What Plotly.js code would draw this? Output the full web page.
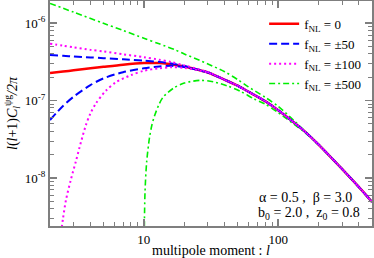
<!DOCTYPE html>
<html><head><meta charset="utf-8">
<script src="https://cdn.plot.ly/plotly-3.0.1.min.js"></script>
<style>html,body{margin:0;padding:0;background:#fff}</style>
</head><body>
<div id="chart" style="width:374px;height:258px"></div>
<script>
// shared tail (all curves merge at high multipoles)
const tailEll = [40, 50, 60, 80, 100, 150, 200, 300, 400, 500];
const tailVal = [1.85e-7, 1.55e-7, 1.3e-7, 9.8e-8, 7.5e-8, 4.3e-8, 2.7e-8, 1.3e-8, 7.6e-9, 4.9e-9];

// low-l heads
const headEll = [2, 2.5, 3, 4, 5, 7, 10, 13, 16, 20, 25, 30];
const f0Val      = [2.27e-7, 2.36e-7, 2.45e-7, 2.6e-7, 2.72e-7, 2.9e-7, 3.04e-7, 3.04e-7, 2.94e-7, 2.74e-7, 2.5e-7, 2.3e-7];
const f50UpVal   = [3.85e-7, 3.77e-7, 3.7e-7, 3.6e-7, 3.52e-7, 3.4e-7, 3.27e-7, 3.15e-7, 3.0e-7, 2.78e-7, 2.52e-7, 2.31e-7];
const f50LoVal   = [5.6e-8, 8.5e-8, 1.12e-7, 1.58e-7, 1.93e-7, 2.32e-7, 2.6e-7, 2.75e-7, 2.8e-7, 2.7e-7, 2.48e-7, 2.29e-7];
const f100UpVal  = [5.4e-7, 5.1e-7, 4.85e-7, 4.5e-7, 4.3e-7, 3.95e-7, 3.62e-7, 3.36e-7, 3.13e-7, 2.84e-7, 2.55e-7, 2.33e-7];

const f100LoEll  = [2.42, 2.5, 2.63, 2.86, 3.12, 3.4, 3.7, 4, 4.4, 5.2, 6.2, 8, 10, 13, 16, 20, 25, 30];
const f100LoVal  = [2.0e-9, 3.0e-9, 5.2e-9, 9.5e-9, 1.65e-8, 2.9e-8, 4.8e-8, 6.8e-8, 9.2e-8, 1.33e-7, 1.72e-7, 2.12e-7, 2.42e-7, 2.6e-7, 2.68e-7, 2.64e-7, 2.47e-7, 2.28e-7];

const f500UpEll  = [2, 3, 5, 7, 10, 13, 17, 20, 26, 30, 40, 50, 60, 80, 100, 130, 160, 200, 300, 400, 500];
const f500UpVal  = [1.79e-6, 1.38e-6, 9.93e-7, 8.01e-7, 6.37e-7, 5.38e-7, 4.53e-7, 3.98e-7, 3.3e-7, 2.96e-7, 2.35e-7, 1.86e-7, 1.5e-7, 1.1e-7, 8.4e-8, 5.6e-8, 3.95e-8, 2.72e-8, 1.3e-8, 7.6e-9, 4.9e-9];

const f500LoEll  = [10.03, 10.2, 10.5, 11, 11.5, 12, 13, 14, 16.7, 20, 26.5, 33, 42, 52.6, 66, 80, 100, 130, 160, 200, 300, 400, 500];
const f500LoVal  = [1.0e-9, 6.5e-9, 1.63e-8, 3.26e-8, 4.9e-8, 6.3e-8, 9.0e-8, 1.12e-7, 1.45e-7, 1.68e-7, 1.82e-7, 1.74e-7, 1.54e-7, 1.31e-7, 1.05e-7, 9.0e-8, 7.0e-8, 5.0e-8, 3.8e-8, 2.68e-8, 1.3e-8, 7.6e-9, 4.9e-9];

const legendNames = ['f<sub>NL</sub> = 0', 'f<sub>NL</sub> = ±50', 'f<sub>NL</sub> = ±100', 'f<sub>NL</sub> = ±500'];
const xTickVals = [10, 100];
const xTickText = ['10', '100'];
const yTickVals = [1e-8, 1e-7, 1e-6];
const yTickText = ['10<sup>-8</sup>', '10<sup>-7</sup>', '10<sup>-6</sup>'];

const withTail = (e, v) => ({x: e.concat(tailEll), y: v.concat(tailVal)});

function minorTicks(lo, hi) {
  const out = [];
  for (let d = lo; d <= hi; d++) for (let m = 2; m <= 9; m++) out.push(m * Math.pow(10, d));
  return out;
}

const RED = '#ff0000', BLUE = '#0000ff', MAG = '#ff00ff', GRN = '#00ee00';
const sm = {shape: 'spline', smoothing: 0.8};

const traces = [];
const r = withTail(headEll, f0Val);
traces.push({x: r.x, y: r.y, mode: 'lines', name: legendNames[0], legendrank: 1, legendgroup: 'a',
  line: Object.assign({color: RED, width: 2.5}, sm)});
traces.push({x: f500UpEll, y: f500UpVal, mode: 'lines', name: legendNames[3], legendrank: 4, legendgroup: 'd',
  line: Object.assign({color: GRN, width: 1.6, dash: '6px,3px,2px,3px'}, sm)});
traces.push({x: f500LoEll, y: f500LoVal, mode: 'lines', name: legendNames[3], showlegend: false, legendgroup: 'd',
  line: Object.assign({color: GRN, width: 1.6, dash: '6px,3px,2px,3px'}, sm)});
const bu = withTail(headEll, f50UpVal), bl = withTail(headEll, f50LoVal);
traces.push({x: bu.x, y: bu.y, mode: 'lines', name: legendNames[1], legendrank: 2, legendgroup: 'b',
  line: Object.assign({color: BLUE, width: 2, dash: '8px,4px'}, sm)});
traces.push({x: bl.x, y: bl.y, mode: 'lines', name: legendNames[1], showlegend: false, legendgroup: 'b',
  line: Object.assign({color: BLUE, width: 2, dash: '8px,4px'}, sm)});
const mu = withTail(headEll, f100UpVal), ml = withTail(f100LoEll, f100LoVal);
traces.push({x: mu.x, y: mu.y, mode: 'lines', name: legendNames[2], legendrank: 3, legendgroup: 'c',
  line: Object.assign({color: MAG, width: 2, dash: '2px,3px'}, sm)});
traces.push({x: ml.x, y: ml.y, mode: 'lines', name: legendNames[2], showlegend: false, legendgroup: 'c',
  line: Object.assign({color: MAG, width: 2, dash: '2px,3px'}, sm)});

const AX = '#7f7f7f';
const FONT = 'Liberation Serif, Times New Roman, serif';
const layout = {
  width: 374, height: 258,
  margin: {l: 50, r: 2, t: 1, b: 32},
  paper_bgcolor: '#fff', plot_bgcolor: '#fff',
  font: {family: FONT, size: 13, color: '#000'},
  showlegend: true,
  legend: {x: 0.665, y: 0.965, xanchor: 'left', yanchor: 'top', bgcolor: 'rgba(0,0,0,0)',
    font: {family: FONT, size: 13}, itemwidth: 30, tracegroupgap: 0},
  xaxis: {type: 'log', range: [Math.log10(2), Math.log10(500)],
    showline: true, linecolor: AX, linewidth: 2, mirror: 'allticks',
    ticks: 'inside', ticklen: 7, tickwidth: 1.5, tickcolor: AX,
    tickmode: 'array', tickvals: xTickVals, ticktext: xTickText,
    minor: {tickmode: 'array', tickvals: minorTicks(0, 2), ticks: 'inside', ticklen: 4, tickwidth: 1, tickcolor: AX, showgrid: false},
    showgrid: false, zeroline: false,
    tickfont: {family: FONT, size: 13},
    title: {text: 'multipole moment : <i>l</i>', font: {family: FONT, size: 14}, standoff: 1}},
  yaxis: {type: 'log', range: [-8.62, -5.716],
    showline: true, linecolor: AX, linewidth: 2, mirror: 'allticks',
    ticks: 'inside', ticklen: 7, tickwidth: 1.5, tickcolor: AX,
    tickmode: 'array', tickvals: yTickVals, ticktext: yTickText,
    minor: {tickmode: 'array', tickvals: minorTicks(-9, -6), ticks: 'inside', ticklen: 4, tickwidth: 1, tickcolor: AX, showgrid: false},
    showgrid: false, zeroline: false,
    tickfont: {family: FONT, size: 13},
    title: {text: '<i>l</i>(<i>l</i>+1)<i>C</i><sub><i>l</i></sub><sup>ψg</sup><i>/2π</i>', font: {family: FONT, size: 14}, standoff: 4}},
  annotations: [
    {text: 'α = 0.5 ,\u00a0\u00a0β = 3.0', xref: 'paper', yref: 'paper', x: 0.945, y: 0.128,
      xanchor: 'right', yanchor: 'middle', showarrow: false, font: {family: FONT, size: 14}},
    {text: 'b<sub>0</sub> = 2.0 ,\u00a0\u00a0z<sub>0</sub> = 0.8', xref: 'paper', yref: 'paper', x: 0.968, y: 0.055,
      xanchor: 'right', yanchor: 'middle', showarrow: false, font: {family: FONT, size: 14}}
  ]
};

Plotly.newPlot('chart', traces, layout, {displayModeBar: false, staticPlot: true});
</script></body></html>
